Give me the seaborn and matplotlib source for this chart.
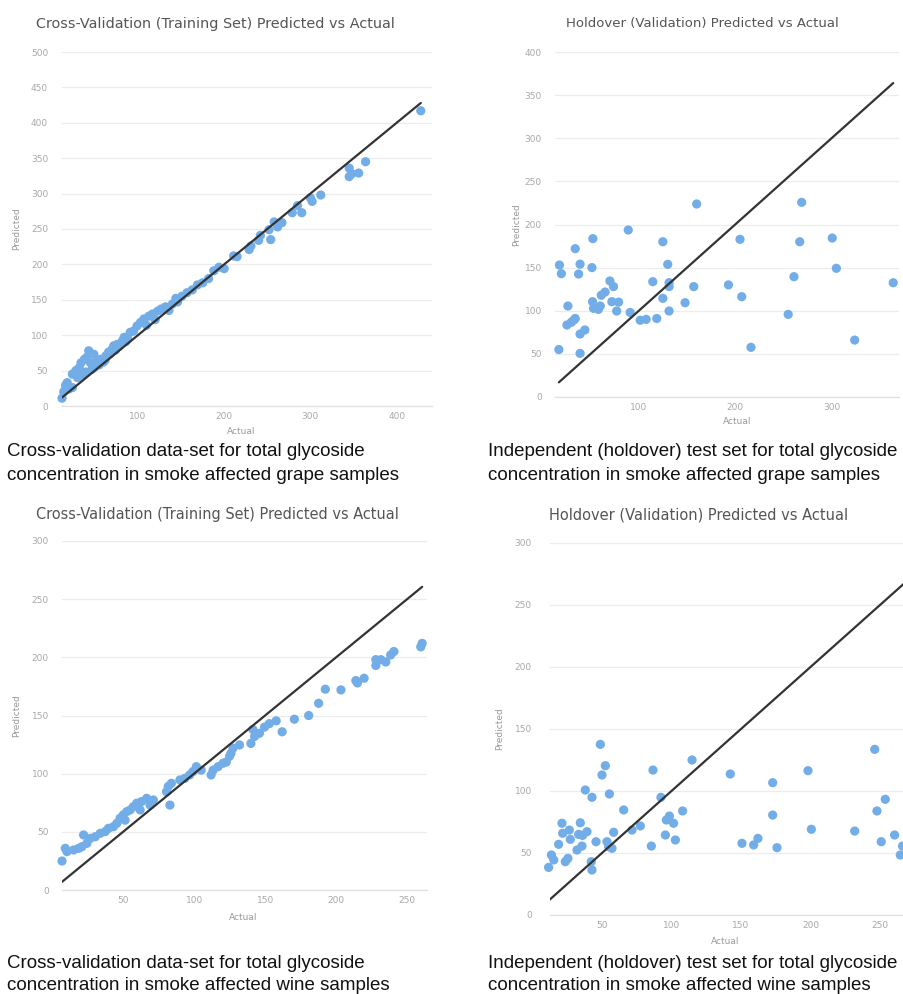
import numpy as np
import pandas as pd
import matplotlib
matplotlib.use("Agg")
import matplotlib.pyplot as plt
import seaborn as sns

# grape - cross validation (training set)
grape_cv_actual = [12, 14, 16, 18, 20, 24, 24, 28, 30, 32, 34, 35, 38, 40, 41, 43, 45, 47, 49, 50,
                   53, 55, 57, 60, 62, 63, 66, 68, 70, 72, 74, 76, 78, 80, 82, 84, 86, 88, 91, 95,
                   99, 103, 107, 110, 113, 117, 120, 123, 127, 132, 136, 140, 144, 146, 151, 157, 163, 169, 175, 182,
                   188, 194, 200, 211, 215, 229, 231, 240, 242, 252, 254, 258, 262, 267, 279, 285, 290, 300, 302, 312,
                   345, 345, 348, 356, 364, 428]
grape_cv_pred = [11, 20, 29, 33, 24, 26, 45, 50, 40, 54, 61, 44, 66, 48, 69, 78, 61, 52, 73, 55,
                 64, 58, 66, 62, 65, 71, 76, 74, 80, 85, 79, 87, 84, 88, 92, 97, 91, 95, 104, 106,
                 113, 118, 123, 114, 127, 130, 122, 134, 137, 140, 135, 144, 152, 147, 155, 160, 164, 171, 174, 180,
                 191, 196, 194, 212, 211, 221, 226, 234, 241, 249, 235, 260, 253, 259, 273, 283, 273, 294, 289, 298,
                 324, 336, 328, 329, 345, 417]

# grape - holdover (validation)
grape_ho_actual = [17.6, 19.6, 17, 26.4, 25.4, 29.9, 32.3, 34, 34, 37.5, 39, 39, 44, 39, 51.3, 52.3, 52, 53,
                   58, 60, 61, 65, 70, 73.7, 72, 79, 77, 89, 91, 101.4, 107.6, 118.6, 114.5, 124.9, 124.9,
                   130, 131.4, 131.4, 131.4, 148, 157, 160, 193, 205, 206.8, 216.4, 255, 261, 267, 269,
                   300.7, 305, 324, 364]
grape_ho_pred = [153, 143, 55, 105.5, 83.5, 86.6, 89, 91, 172, 142.6, 154, 73, 77.7, 50.6, 150, 183.6, 110.5, 102.8,
                 101.6, 105.5, 118, 121.7, 134.5, 128, 110.5, 110, 99.7, 193.6, 98, 89, 90, 91, 133.7, 180, 114.4,
                 153.8, 128, 132.6, 99.7, 109.3, 128, 223.8, 130, 182.8, 116.3, 57.6, 95.8, 139.5, 180, 225.7,
                 184.3, 149.2, 66, 132.5]

# wine - cross validation (training set)
wine_cv_actual = [7, 9.3, 10.5, 15.2, 18.7, 21, 22.2, 24.5, 26.9, 30.4, 33.9, 37.4, 39.7, 43.2, 45.6, 47.9,
                  50.2, 51.4, 52.6, 55, 57.2, 59.6, 62, 63, 66.6, 69, 71.3, 80.6, 81.8, 83, 84, 90, 93.5,
                  96.9, 99.3, 101.6, 105, 112, 113.4, 116.9, 120.4, 122.7, 125, 126, 127.4, 132, 140, 141.4,
                  142.6, 146, 149.6, 153, 157.8, 162, 170.6, 180.7, 187.7, 192.4, 203.4, 213.9, 215, 219.7,
                  228, 228, 231.5, 235, 238.4, 240.7, 259.6, 260.6]
wine_cv_pred = [24.9, 35.8, 33, 34.4, 35.8, 37.2, 47.3, 40.1, 44.4, 45.8, 48.7, 50.2, 53, 54.4, 57.3, 61.7,
                64.6, 60, 67.4, 68.8, 71.6, 74.6, 68.8, 76, 78.8, 73, 77.4, 84.5, 89, 73, 91.7, 94.6, 96,
                98.9, 101.9, 106, 103, 98.9, 103, 106, 109, 110, 115, 117.5, 122, 124.7, 126, 138,
                132, 134.7, 140, 143, 145.4, 136, 146.8, 150, 160.5, 172.6, 172, 180, 178, 182,
                198, 193, 198, 196, 202, 205, 209, 212]

# wine - holdover (validation)
wine_ho_actual = [11.6, 13.6, 15.3, 18.8, 21.2, 21.7, 23.6, 25.5, 26.5, 27.2, 32, 33.2, 34.4, 35.6, 36, 38,
                  39.2, 42.8, 42.8, 42.3, 45.7, 48.8, 50, 52.4, 53.6, 55.3, 54.8, 57.2, 58.4, 65.6, 71.6,
                  77.6, 85.5, 86.7, 92.4, 95.6, 96.3, 98.5, 101.5, 102.8, 108, 114.8, 142.3, 150.7, 159.1,
                  162.2, 172.8, 172.8, 175.9, 198.2, 200.6, 231.8, 246.2, 247.8, 253.8, 250.9, 260.5,
                  264.6, 266.2, 270]
wine_ho_pred = [38.4, 48.4, 44.4, 57, 74, 65.9, 43, 45.7, 68.5, 61, 52.4, 65, 74.4, 55.6, 64.2, 100.8,
                67.2, 94.9, 36.3, 43, 59.1, 137.6, 112.9, 120.4, 59.1, 97.6, 55.1, 53.8, 66.7, 84.7, 68.5,
                71.8, 55.6, 116.9, 94.9, 64.5, 76.6, 79.8, 74, 60.5, 83.9, 125, 113.7, 57.8, 56.5,
                61.8, 106.7, 80.6, 54.3, 116.4, 69.1, 67.7, 133.6, 83.9, 93.3, 59.1, 64.5,
                48.4, 55.6, 62]

titles = ["Cross-Validation (Training Set) Predicted vs Actual",
          "Holdover (Validation) Predicted vs Actual",
          "Cross-Validation (Training Set) Predicted vs Actual",
          "Holdover (Validation) Predicted vs Actual"]
captions = [["Cross-validation data-set for total glycoside",
             "concentration in smoke affected grape samples"],
            ["Independent (holdover) test set for total glycoside",
             "concentration in smoke affected grape samples"],
            ["Cross-validation data-set for total glycoside",
             "concentration in smoke affected wine samples"],
            ["Independent (holdover) test set for total glycoside",
             "concentration in smoke affected wine samples"]]

sns.set_theme(style="white")
plt.rcParams['font.family'] = ['DejaVu Sans']

W, H = 904, 994
fig = plt.figure(figsize=(W / 100, H / 100), dpi=100)
fig.patch.set_facecolor("white")

def px_axes(left, top, right, bottom):
    return fig.add_axes([left / W, 1 - bottom / H, (right - left) / W, (bottom - top) / H])

panels = [
    dict(box=(62, 52, 432, 406), xlim=(12, 441), ylim=(0, 500), xt=[100, 200, 300, 400],
         ylab=(-0.111, 0.5), xlab=(0.484, -0.06), pad=10,
         data=(grape_cv_actual, grape_cv_pred)),
    dict(box=(555, 52, 899, 397), xlim=(13, 370), ylim=(0, 400), xt=[100, 200, 300],
         ylab=(-0.099, 0.5), xlab=(0.529, -0.058), pad=9.5,
         data=(grape_ho_actual, grape_ho_pred)),
    dict(box=(62, 541, 427, 890), xlim=(7, 264), ylim=(0, 300), xt=[50, 100, 150, 200, 250],
         ylab=(-0.112, 0.5), xlab=(0.496, -0.066), pad=9.5,
         data=(wine_cv_actual, wine_cv_pred)),
    dict(box=(550, 543, 921.7, 915), xlim=(12.6, 280), ylim=(0, 300), xt=[50, 100, 150, 200, 250],
         ylab=(-0.124, 0.5), xlab=(0.471, -0.059), pad=13,
         data=(wine_ho_actual, wine_ho_pred)),
]

for i, p in enumerate(panels):
    ax = px_axes(*p["box"])
    act, pred = p["data"]
    df = pd.DataFrame({"Actual": act, "Predicted": pred})
    sns.scatterplot(data=df, x="Actual", y="Predicted", ax=ax, color="#72ade8",
                    s=44, edgecolor="none", linewidth=0, zorder=3, clip_on=False)
    lo, hi = df["Actual"].min(), df["Actual"].max()
    sns.lineplot(x=[lo, hi], y=[lo, hi], ax=ax, color="#333333", linewidth=1.6, zorder=4)
    ax.set_xlim(*p["xlim"])
    ax.set_ylim(*p["ylim"])
    ax.set_xticks(p["xt"])
    ax.set_yticks(np.arange(0, p["ylim"][1] + 1, 50))
    ax.grid(axis="y", color="#ececec", linewidth=0.9)
    ax.grid(axis="x", visible=False)
    for s in ["top", "right", "left"]:
        ax.spines[s].set_visible(False)
    ax.spines["bottom"].set_color("#e0e0e0")
    ax.spines["bottom"].set_linewidth(0.9)
    ax.tick_params(axis="both", length=0, labelsize=6.5, labelcolor="#a8a8a8")
    ax.tick_params(axis="y", pad=p["pad"])
    ax.tick_params(axis="x", pad=4)
    ax.set_ylabel("Predicted", fontsize=6.5, color="#999999")
    ax.set_xlabel("Actual", fontsize=6.5, color="#999999")
    ax.yaxis.set_label_coords(*p["ylab"])
    ax.xaxis.set_label_coords(*p["xlab"])
    ax.set_facecolor("white")

# chart titles (the source images were not all at the same scale)
for (x, y, fs), t in zip([(215, 24, 10.4), (702, 24, 9.5), (217, 514, 10.45), (699, 515, 10.5)], titles):
    fig.text(x / W, 1 - y / H, t, ha="center", va="center", fontsize=fs, color="#555555")

# captions below each chart, one line at a time
for (x, y1, y2), lines in zip([(7, 452, 475), (488, 452, 475), (7, 963, 985), (488, 963, 985)], captions):
    for y, line in zip([y1, y2], lines):
        fig.text(x / W, 1 - y / H, line, ha="left", va="center", fontsize=13.5, color="#111111",
                 family=["Liberation Sans", "DejaVu Sans"])

fig.savefig("out.png", dpi=100, facecolor="white")
